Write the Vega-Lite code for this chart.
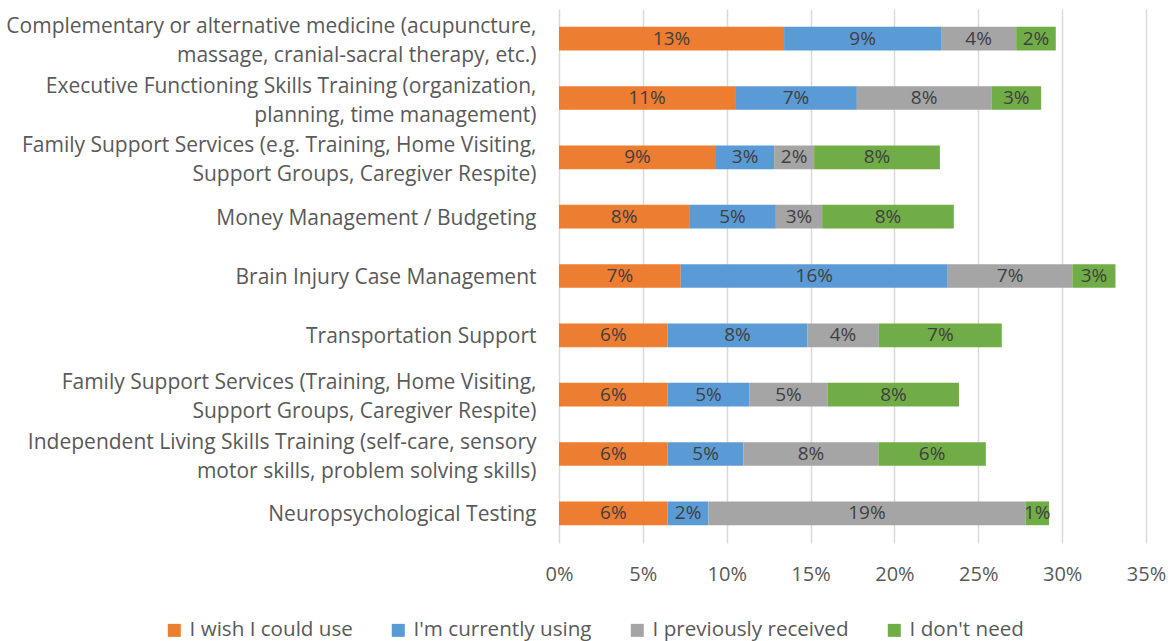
{
  "$schema": "https://vega.github.io/schema/vega-lite/v6.json",
  "autosize": {"type": "none"},
  "width": 587,
  "height": 534,
  "padding": {"left": 559, "top": 9, "right": 24, "bottom": 98},
  "background": "white",
  "config": {
    "font": "Open Sans",
    "view": {"stroke": null}
  },
  "data": {
    "values": [
      {"category": "Complementary or alternative medicine (acupuncture,\nmassage, cranial-sacral therapy, etc.)", "series": "I wish I could use", "value": 0.1342},
      {"category": "Complementary or alternative medicine (acupuncture,\nmassage, cranial-sacral therapy, etc.)", "series": "I'm currently using", "value": 0.0936},
      {"category": "Complementary or alternative medicine (acupuncture,\nmassage, cranial-sacral therapy, etc.)", "series": "I previously received", "value": 0.0448},
      {"category": "Complementary or alternative medicine (acupuncture,\nmassage, cranial-sacral therapy, etc.)", "series": "I don't need", "value": 0.0236},
      {"category": "Executive Functioning Skills Training (organization,\nplanning, time management)", "series": "I wish I could use", "value": 0.1050},
      {"category": "Executive Functioning Skills Training (organization,\nplanning, time management)", "series": "I'm currently using", "value": 0.0726},
      {"category": "Executive Functioning Skills Training (organization,\nplanning, time management)", "series": "I previously received", "value": 0.0802},
      {"category": "Executive Functioning Skills Training (organization,\nplanning, time management)", "series": "I don't need", "value": 0.0297},
      {"category": "Family Support Services (e.g. Training, Home Visiting,\nSupport Groups, Caregiver Respite)", "series": "I wish I could use", "value": 0.0936},
      {"category": "Family Support Services (e.g. Training, Home Visiting,\nSupport Groups, Caregiver Respite)", "series": "I'm currently using", "value": 0.0347},
      {"category": "Family Support Services (e.g. Training, Home Visiting,\nSupport Groups, Caregiver Respite)", "series": "I previously received", "value": 0.0238},
      {"category": "Family Support Services (e.g. Training, Home Visiting,\nSupport Groups, Caregiver Respite)", "series": "I don't need", "value": 0.0750},
      {"category": "Money Management / Budgeting", "series": "I wish I could use", "value": 0.0776},
      {"category": "Money Management / Budgeting", "series": "I'm currently using", "value": 0.0517},
      {"category": "Money Management / Budgeting", "series": "I previously received", "value": 0.0276},
      {"category": "Money Management / Budgeting", "series": "I don't need", "value": 0.0785},
      {"category": "Brain Injury Case Management", "series": "I wish I could use", "value": 0.0726},
      {"category": "Brain Injury Case Management", "series": "I'm currently using", "value": 0.1592},
      {"category": "Brain Injury Case Management", "series": "I previously received", "value": 0.0743},
      {"category": "Brain Injury Case Management", "series": "I don't need", "value": 0.0257},
      {"category": "Transportation Support", "series": "I wish I could use", "value": 0.0648},
      {"category": "Transportation Support", "series": "I'm currently using", "value": 0.0832},
      {"category": "Transportation Support", "series": "I previously received", "value": 0.0427},
      {"category": "Transportation Support", "series": "I don't need", "value": 0.0733},
      {"category": "Family Support Services (Training, Home Visiting,\nSupport Groups, Caregiver Respite)", "series": "I wish I could use", "value": 0.0648},
      {"category": "Family Support Services (Training, Home Visiting,\nSupport Groups, Caregiver Respite)", "series": "I'm currently using", "value": 0.0486},
      {"category": "Family Support Services (Training, Home Visiting,\nSupport Groups, Caregiver Respite)", "series": "I previously received", "value": 0.0469},
      {"category": "Family Support Services (Training, Home Visiting,\nSupport Groups, Caregiver Respite)", "series": "I don't need", "value": 0.0782},
      {"category": "Independent Living Skills Training (self-care, sensory\nmotor skills, problem solving skills)", "series": "I wish I could use", "value": 0.0648},
      {"category": "Independent Living Skills Training (self-care, sensory\nmotor skills, problem solving skills)", "series": "I'm currently using", "value": 0.0452},
      {"category": "Independent Living Skills Training (self-care, sensory\nmotor skills, problem solving skills)", "series": "I previously received", "value": 0.0804},
      {"category": "Independent Living Skills Training (self-care, sensory\nmotor skills, problem solving skills)", "series": "I don't need", "value": 0.0641},
      {"category": "Neuropsychological Testing", "series": "I wish I could use", "value": 0.0648},
      {"category": "Neuropsychological Testing", "series": "I'm currently using", "value": 0.0243},
      {"category": "Neuropsychological Testing", "series": "I previously received", "value": 0.1890},
      {"category": "Neuropsychological Testing", "series": "I don't need", "value": 0.0141}
    ]
  },
  "transform": [
    {"stack": "value", "groupby": ["category"], "as": ["x0", "x1"]}
  ],
  "encoding": {
    "y": {
      "field": "category",
      "type": "nominal",
      "sort": null,
      "title": null,
      "scale": {"paddingInner": 0.6, "paddingOuter": 0.3},
      "axis": {
        "domain": false,
        "ticks": false,
        "labelFontSize": 21,
        "labelColor": "#595959",
        "labelPadding": 23,
        "labelLimit": 600,
        "labelLineHeight": 29,
        "labelOffset": {"condition": {"test": "indexof(datum.value, '\\n') >= 0", "value": -11.5}, "value": 2},
        "labelExpr": "split(datum.label, '\\n')"
      }
    }
  },
  "layer": [
    {
      "mark": {"type": "bar"},
      "encoding": {
        "x": {
          "field": "x0",
          "type": "quantitative",
          "title": null,
          "scale": {"domain": [0, 0.35], "nice": false},
          "axis": {
            "values": [0, 0.05, 0.1, 0.15, 0.2, 0.25, 0.3, 0.35],
            "format": ".0%",
            "domain": false,
            "ticks": false,
            "grid": true,
            "gridColor": "#D9D9D9",
            "gridWidth": 1.5,
            "labelFontSize": 20,
            "labelColor": "#595959",
            "labelPadding": 21,
            "labelFlush": false
          }
        },
        "x2": {"field": "x1"},
        "color": {
          "field": "series",
          "type": "nominal",
          "title": null,
          "scale": {
            "domain": ["I wish I could use", "I'm currently using", "I previously received", "I don't need"],
            "range": ["#ED7D31", "#5B9BD5", "#A5A5A5", "#70AD47"]
          },
          "legend": {
            "orient": "none",
            "direction": "horizontal",
            "legendX": -395,
            "legendY": 611,
            "symbolType": "square",
            "symbolSize": 169,
            "symbolStrokeWidth": 0,
            "labelFontSize": 20.6,
            "labelColor": "#595959",
            "labelOffset": 5,
            "columnPadding": 35,
            "labelLimit": 400
          }
        }
      }
    },
    {
      "transform": [
        {"fold": ["x0", "x1"], "as": ["edge", "pos"]}
      ],
      "mark": {"type": "text", "fontSize": 19, "color": "#404040", "baseline": "middle"},
      "encoding": {
        "x": {"field": "pos", "type": "quantitative", "aggregate": "mean", "stack": null},
        "detail": {"field": "series", "type": "nominal"},
        "text": {"field": "value", "type": "quantitative", "aggregate": "max", "format": ".0%"}
      }
    }
  ]
}
